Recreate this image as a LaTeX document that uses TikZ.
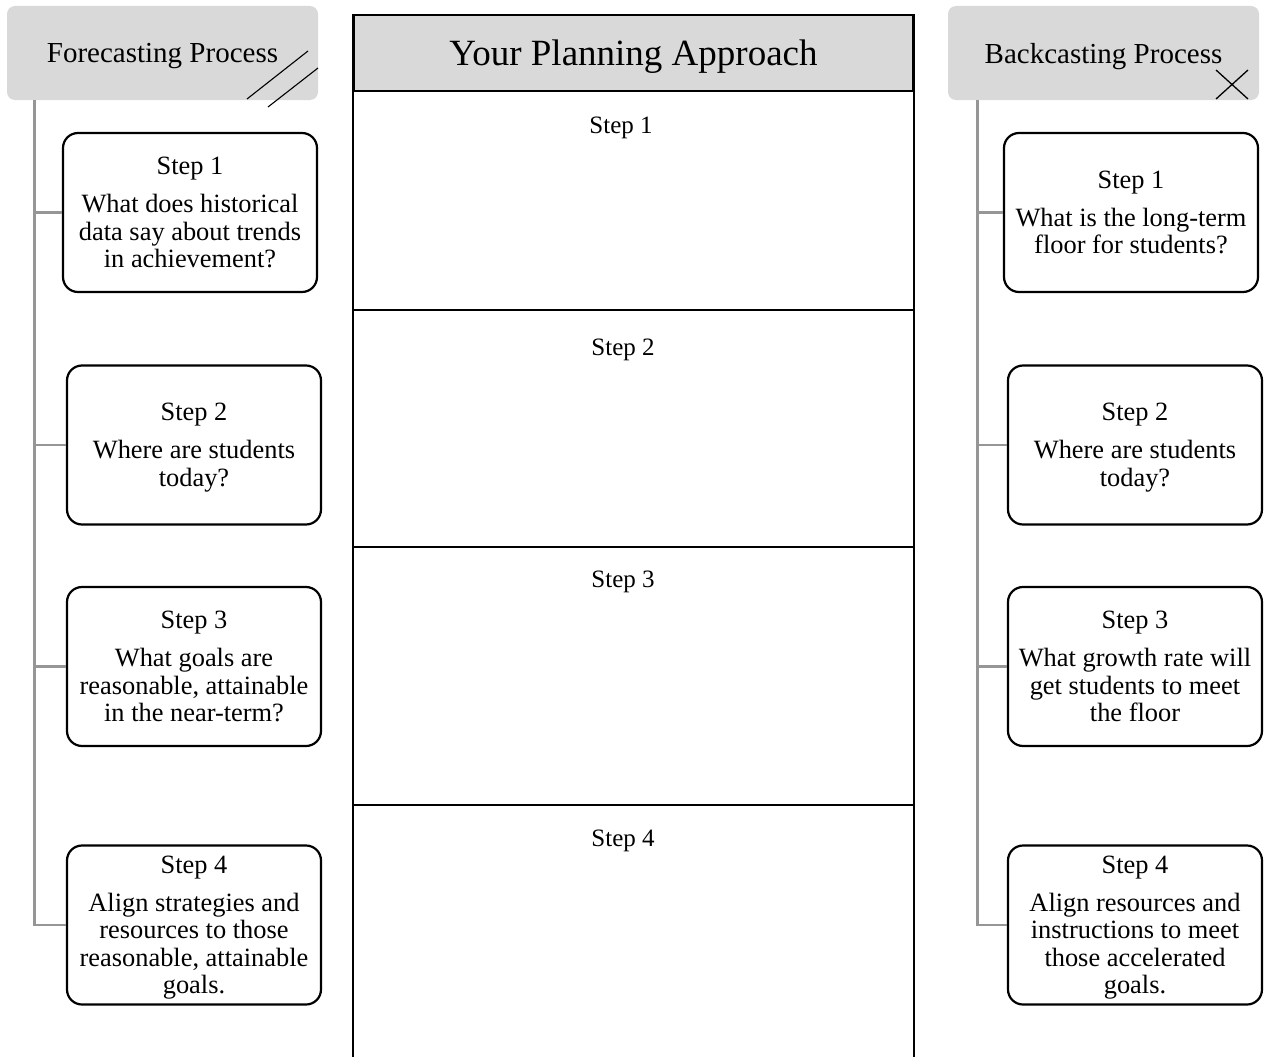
\documentclass[tikz,border=0pt]{standalone}
\usepackage{fontspec}
\setmainfont{Liberation Serif}
\usetikzlibrary{positioning}
\definecolor{headgray}{HTML}{D9D9D9}
\definecolor{trunkgray}{HTML}{969696}
\newcommand{\stepline}[2]{Step #1\\[10.5pt]#2}

\begin{document}
\begin{tikzpicture}[x=1pt, y=-1pt,
    head/.style={fill=headgray, rounded corners=8pt, minimum width=311pt, minimum height=94pt,
      text depth=0pt, font=\fontsize{29}{32}\selectfont},
    stepbox/.style={draw, line width=2.2pt, rounded corners=15pt, minimum width=254pt,
      minimum height=159pt, align=center, inner sep=2pt, text depth=0pt,
      font=\fontsize{26.4}{27.5}\selectfont},
    trunk/.style={draw=trunkgray, line width=2.8pt},
    frame/.style={draw, line width=2pt},
    steplabel/.style={font=\fontsize{25}{28}\selectfont}]
  \useasboundingbox (0,0) rectangle (1267,1057);

  % forecasting column
  \node[head] (fhead) at (162.5,53) {Forecasting Process};
  \draw[line width=1.1pt] (247,99) -- (308,51) (268,107) -- (318,68);
  \node[stepbox] (f1) at (190,212.5) {\stepline{1}{What does historical\\data say about trends\\in achievement?}};
  \node[stepbox] (f2) at (194,445) {\stepline{2}{Where are students\\today?}};
  \node[stepbox] (f3) at (194,666.5) {\stepline{3}{What goals are\\reasonable, attainable\\in the near-term?}};
  \node[stepbox] (f4) at (194,925) {\stepline{4}{Align strategies and\\resources to those\\reasonable, attainable\\goals.}};
  \coordinate (ftrunk) at ([xshift=28pt]fhead.south west);
  \draw[trunk] (ftrunk) |- (f4.west);
  \foreach \n in {1,2,3}
    \draw[trunk] (ftrunk |- f\n.west) -- (f\n.west);

  % backcasting column
  \node[head] (bhead) at (1103.5,53) {Backcasting Process};
  \draw[line width=1.3pt] (1216,70) -- (1248,99) (1216,99) -- (1248,70);
  \node[stepbox] (b1) at (1131,212.5) {\stepline{1}{What is the long-term\\floor for students?}};
  \node[stepbox] (b2) at (1135,445) {\stepline{2}{Where are students\\today?}};
  \node[stepbox] (b3) at (1135,666.5) {\stepline{3}{What growth rate will\\get students to meet\\the floor}};
  \node[stepbox] (b4) at (1135,925) {\stepline{4}{Align resources and\\instructions to meet\\those accelerated\\goals.}};
  \coordinate (btrunk) at ([xshift=30pt]bhead.south west);
  \draw[trunk] (btrunk) |- (b4.west);
  \foreach \n in {1,2,3}
    \draw[trunk] (btrunk |- b\n.west) -- (b\n.west);

  % planning column
  \node[frame, fill=headgray, minimum width=559pt, minimum height=76pt, text depth=0pt,
    font=\fontsize{37}{40}\selectfont] (plan) at (633.5,53) {Your Planning Approach};
  \draw[frame] (plan.north west) -- ++(0,1060) (plan.north east) -- ++(0,1060);
  \foreach \y in {310,547,805}
    \draw[frame] (354,\y) -- (913,\y);
  \node[steplabel] (p1) at (621,128) {Step 1};
  \node[steplabel] (p2) at (623,350) {Step 2};
  \node[steplabel] (p3) at (623,582) {Step 3};
  \node[steplabel] (p4) at (623,841) {Step 4};
\end{tikzpicture}
\end{document}
